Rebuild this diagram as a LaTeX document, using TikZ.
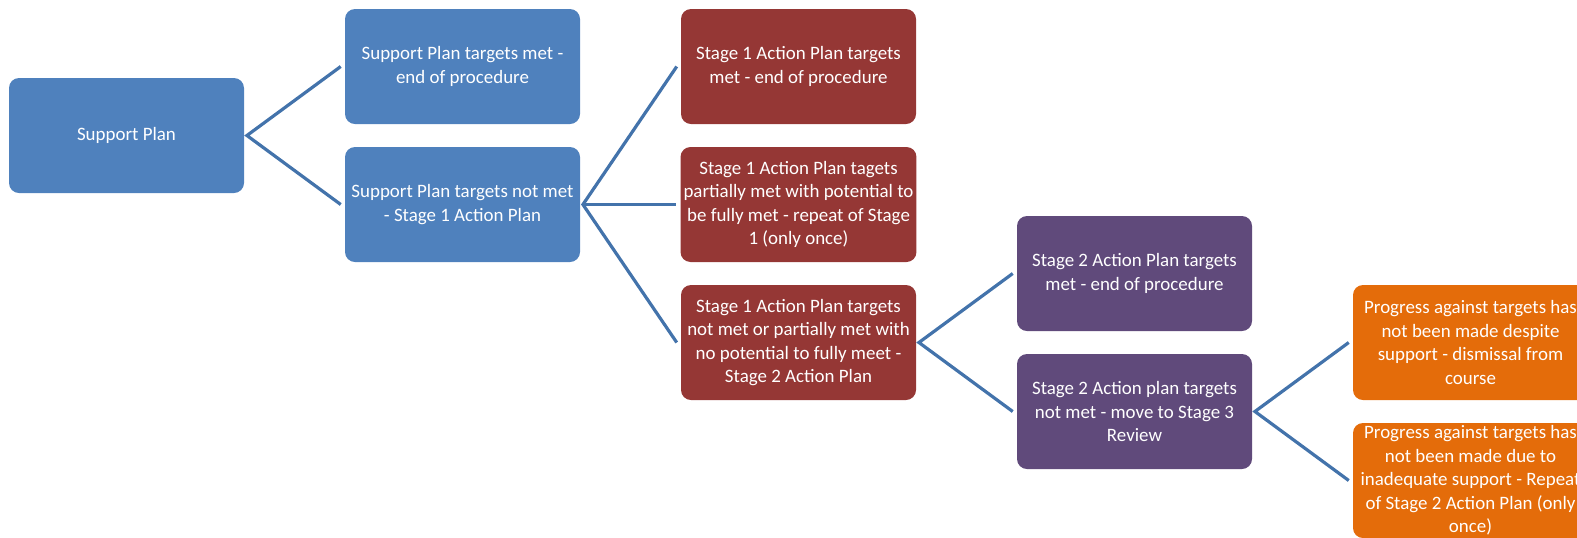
\documentclass[tikz,border=0pt]{standalone}
\usepackage{fontspec}
\setmainfont{Carlito}
\definecolor{plancol}{HTML}{4F81BD}
\definecolor{stageonecol}{HTML}{953735}
\definecolor{stagetwocol}{HTML}{604A7B}
\definecolor{reviewcol}{HTML}{E46C0A}
\definecolor{linkcol}{HTML}{4373AB}
\tikzset{
  box/.style={rounded corners=7.5pt, text=white, align=center,
    inner xsep=2.25pt, inner ysep=0pt,
    minimum width=176.25pt, minimum height=86.25pt,
    font=\fontsize{14.2pt}{17.6pt}\selectfont},
  planbox/.style={box, fill=plancol},
  onebox/.style={box, fill=stageonecol},
  twobox/.style={box, fill=stagetwocol},
  threebox/.style={box, fill=reviewcol},
  link/.style={draw=linkcol, line width=2.4pt, line join=miter}
}
\begin{document}
\begin{tikzpicture}[x=0.75pt, y=-0.75pt]
\useasboundingbox (0,0) rectangle (1577,537);
\clip (0,0) rectangle (1577,537);

% column 1
\node[planbox] (sp) at (126.5,135.5) {Support Plan};
% column 2
\node[planbox] (spmet) at (462.5,66.5) {Support Plan targets met -\\end of procedure};
\node[planbox] (spnot) at (462.5,204.5) {Support Plan targets not met\\- Stage 1 Action Plan};
% column 3
\node[onebox] (onemet) at (798.5,66.5) {Stage 1 Action Plan targets\\met - end of procedure};
\node[onebox] (onepart) at (798.5,204.5) {Stage 1 Action Plan tagets\\partially met with potential to\\be fully met - repeat of Stage\\1 (only once)};
\node[onebox] (onenot) at (798.5,342.5) {Stage 1 Action Plan targets\\not met or partially met with\\no potential to fully meet -\\Stage 2 Action Plan};
% column 4
\node[twobox] (twomet) at (1134.5,273.5) {Stage 2 Action Plan targets\\met - end of procedure};
\node[twobox] (twonot) at (1134.5,411.5) {Stage 2 Action plan targets\\not met - move to Stage 3\\Review};
% column 5
\node[threebox] (dismiss) at (1470.5,342.5) {Progress against targets has\\not been made despite\\support - dismissal from\\course};
\node[threebox] (repeat) at (1470.5,480.5) {Progress against targets has\\not been made due to\\inadequate support - Repeat\\of Stage 2 Action Plan (only\\once)};

% connectors
\draw[link] ([xshift=-3pt]spmet.west) -- ([xshift=2pt]sp.east) -- ([xshift=-3pt]spnot.west);
\draw[link] ([xshift=-3pt]onemet.west) -- ([xshift=2pt]spnot.east) -- ([xshift=-3pt]onenot.west);
\draw[link] ([xshift=2pt]spnot.east) -- ([xshift=-3pt]onepart.west);
\draw[link] ([xshift=-3pt]twomet.west) -- ([xshift=2pt]onenot.east) -- ([xshift=-3pt]twonot.west);
\draw[link] ([xshift=-3pt]dismiss.west) -- ([xshift=2pt]twonot.east) -- ([xshift=-3pt]repeat.west);
\end{tikzpicture}
\end{document}
